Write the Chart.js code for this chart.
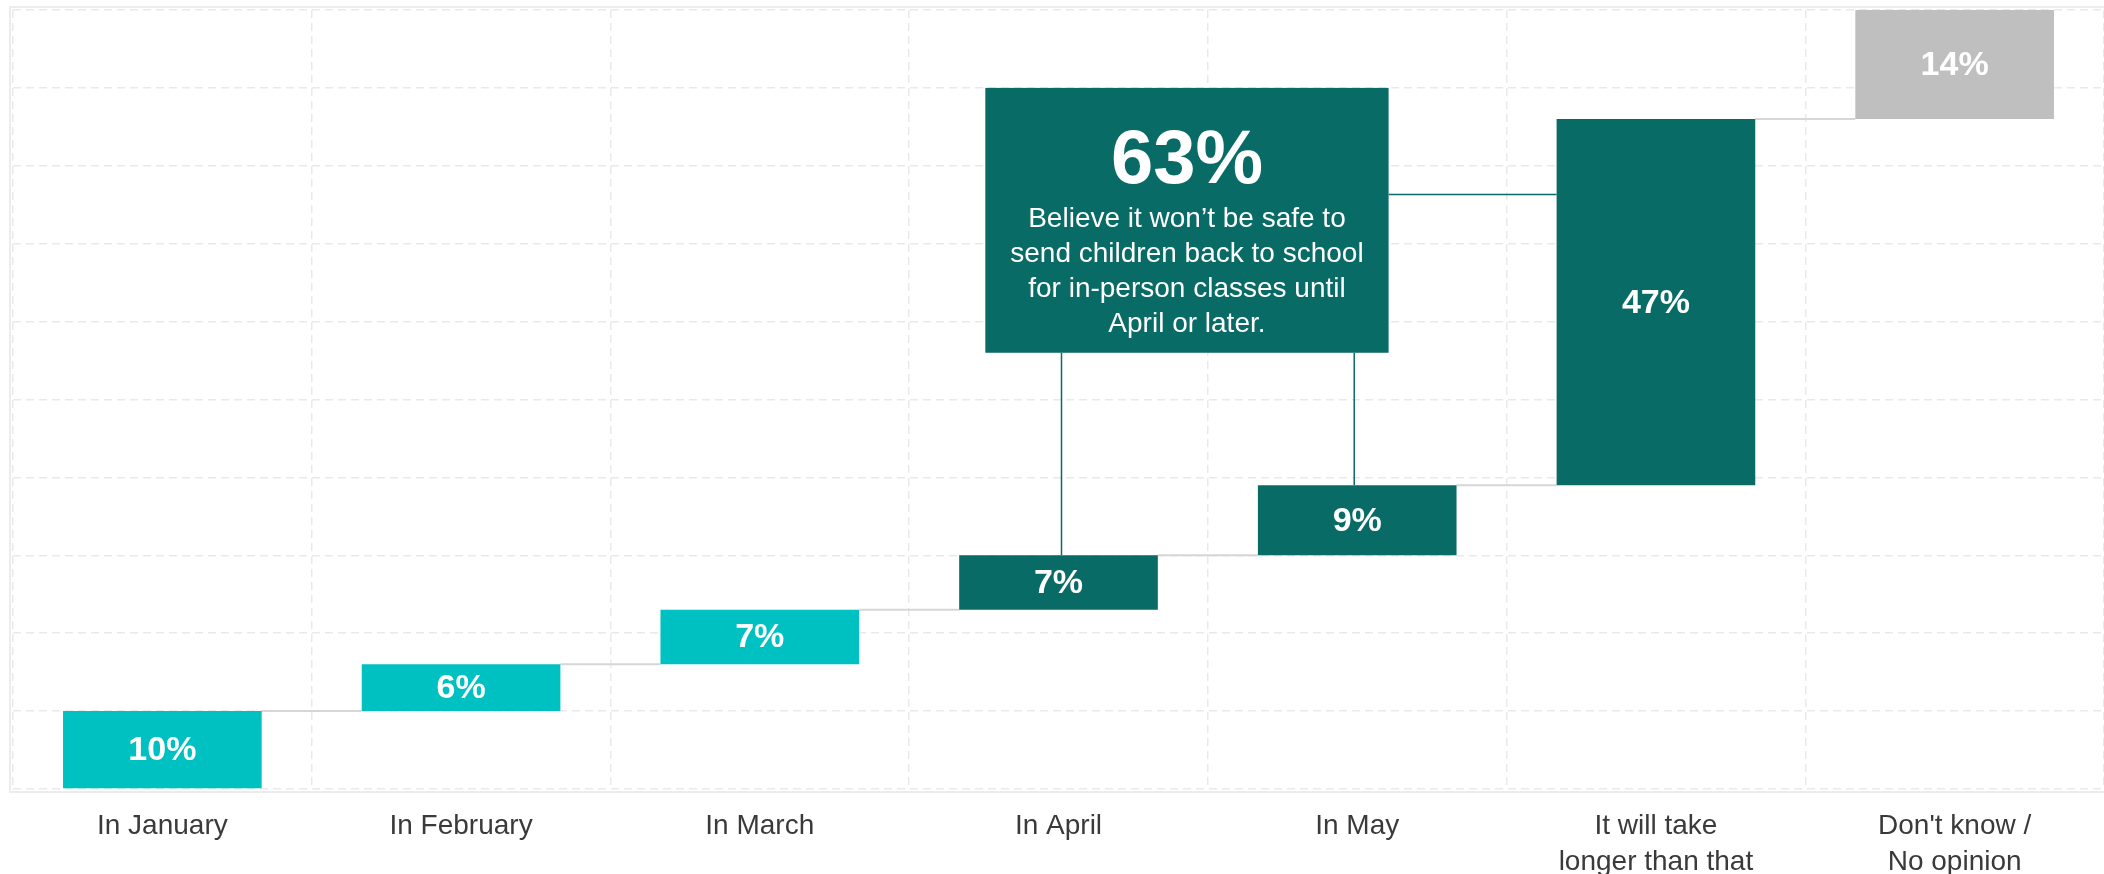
<!DOCTYPE html>
<html>
<head>
<meta charset="utf-8">
<script src="https://cdn.jsdelivr.net/npm/chart.js@4.4.1/dist/chart.umd.min.js"></script>
<style>
  html, body { margin: 0; padding: 0; background: #fff; }
  canvas { display: block; }
</style>
</head>
<body>
<canvas id="waterfall" width="2104" height="874"></canvas>
<script>
// answers, in the order they stack up
const categories = [
    "In January", "In February", "In March", "In April", "In May",
    ["It will take", "longer than that"], ["Don't know /", "No opinion"]
];
const shares = [10, 6, 7, 7, 9, 47, 14];
const barColors = ["#00c1c1", "#00c1c1", "#00c1c1", "#086b66", "#086b66", "#086b66", "#bfbfbf"];
const calloutValue = "63%";
const calloutLines = [
    "Believe it won\u2019t be safe to",
    "send children back to school",
    "for in-person classes until",
    "April or later."
];

const FONT = "'Liberation Sans', Arial, sans-serif";
const DARK = "#086b66";

// floating ranges for the waterfall
let running = 0;
const ranges = shares.map(v => {
    let r = [running, running + v];
    running += v;
    return r;
});

// light frame round the plot
const framePlugin = {
    id: 'frame',
    beforeDraw(chart) {
        let a = chart.chartArea;
        let ctx = chart.ctx;
        ctx.save();
        ctx.strokeStyle = '#ececec';
        ctx.lineWidth = 2;
        ctx.strokeRect(a.left - 3, a.top - 3, a.right - a.left + 6, a.bottom - a.top + 6);
        ctx.restore();
    }
};

// grey steps between bars
const stepPlugin = {
    id: 'steps',
    beforeDatasetsDraw(chart) {
        let ctx = chart.ctx;
        let bars = chart.getDatasetMeta(0).data;
        ctx.save();
        ctx.strokeStyle = '#d6d6d6';
        ctx.lineWidth = 2;
        for (let i = 0; i < bars.length - 1; i++) {
            let y = chart.scales.y.getPixelForValue(ranges[i][1]);
            ctx.beginPath();
            ctx.moveTo(bars[i].x + bars[i].width / 2, y);
            ctx.lineTo(bars[i + 1].x - bars[i + 1].width / 2, y);
            ctx.stroke();
        }
        ctx.restore();
    }
};

// values written inside the bars
const labelPlugin = {
    id: 'barLabels',
    afterDatasetsDraw(chart) {
        let ctx = chart.ctx;
        let bars = chart.getDatasetMeta(0).data;
        ctx.save();
        ctx.fillStyle = '#ffffff';
        ctx.font = "bold 34px " + FONT;
        ctx.textAlign = 'center';
        ctx.textBaseline = 'middle';
        bars.forEach(function (b, i) {
            ctx.fillText(shares[i] + "%", b.x, (b.y + b.base) / 2 + 1);
        });
        ctx.restore();
    }
};

// the 63% call-out box and its connectors
const calloutPlugin = {
    id: 'callout',
    afterDatasetsDraw(chart) {
        let ctx = chart.ctx;
        let x = chart.scales.x;
        let y = chart.scales.y;
        let bars = chart.getDatasetMeta(0).data;
        let step = x.getPixelForValue(4) - x.getPixelForValue(3);
        let left = x.getPixelForValue(3) - step * 0.245;
        let right = x.getPixelForValue(4) + step * 0.105;
        let top = y.getPixelForValue(90);
        let bottom = y.getPixelForValue(56);
        let linkY = y.getPixelForValue(76.3);

        ctx.save();
        ctx.strokeStyle = DARK;
        ctx.lineWidth = 1.5;
        ctx.beginPath();
        ctx.moveTo(bars[3].x + 3, bottom);
        ctx.lineTo(bars[3].x + 3, bars[3].y);
        ctx.moveTo(bars[4].x - 3, bottom);
        ctx.lineTo(bars[4].x - 3, bars[4].y);
        ctx.moveTo(right, linkY);
        ctx.lineTo(bars[5].x - bars[5].width / 2, linkY);
        ctx.stroke();

        ctx.fillStyle = DARK;
        ctx.fillRect(left, top, right - left, bottom - top);

        let cx = (left + right) / 2;
        ctx.fillStyle = '#ffffff';
        ctx.textAlign = 'center';
        ctx.textBaseline = 'middle';
        ctx.font = "bold 76px " + FONT;
        ctx.fillText(calloutValue, cx, top + 74);
        ctx.font = "28px " + FONT;
        calloutLines.forEach(function (t, i) {
            ctx.fillText(t, cx, top + 131 + i * 35);
        });
        ctx.restore();
    }
};

new Chart("waterfall", {
    type: "bar",
    data: {
        labels: categories,
        datasets: [{
            data: ranges,
            backgroundColor: barColors,
            borderWidth: 0,
            barPercentage: 0.665,
            categoryPercentage: 1
        }]
    },
    options: {
        responsive: false,
        animation: false,
        layout: { padding: { left: 13, right: 0, top: 10, bottom: 0 } },
        plugins: {
            legend: { display: false },
            tooltip: { enabled: false },
            title: { display: false }
        },
        scales: {
            x: {
                grid: {
                    color: '#e9e9e9',
                    lineWidth: 1.5,
                    drawTicks: false
                },
                border: { display: false, dash: [8, 5] },
                ticks: {
                    color: '#3a3a3a',
                    font: { family: FONT, size: 28, lineHeight: 1.3 },
                    padding: 19,
                    maxRotation: 0,
                    autoSkip: false
                },
                afterFit: function (s) { s.height = 85; }
            },
            y: {
                min: 0,
                max: 100,
                grid: {
                    color: '#e9e9e9',
                    lineWidth: 1.5,
                    drawTicks: false
                },
                border: { display: false, dash: [8, 5] },
                ticks: { display: false, stepSize: 10 },
                afterFit: function (s) { s.width = 0; }
            }
        }
    },
    plugins: [framePlugin, stepPlugin, labelPlugin, calloutPlugin]
});
</script>
</body>
</html>
